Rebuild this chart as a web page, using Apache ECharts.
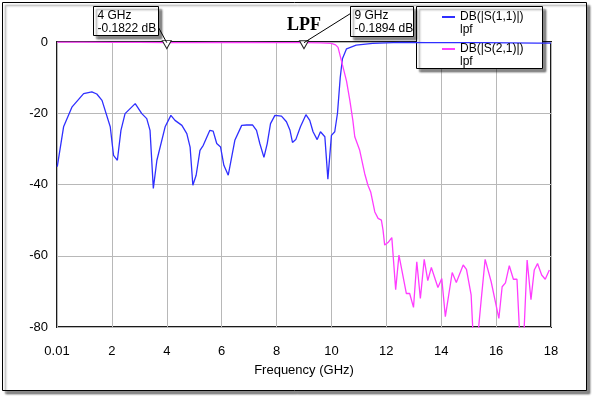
<!DOCTYPE html>
<html>
<head>
<meta charset="utf-8">
<script src="https://cdn.jsdelivr.net/npm/echarts@6/dist/echarts.min.js"></script>
<style>
html, body { margin: 0; padding: 0; background: #fff; }
#chart { width: 593px; height: 397px; }
</style>
</head>
<body>
<div id="chart"></div>
<script>
// DB(|S(1,1)|) - return loss, blue
const s11Freq = [0.01, 0.24, 0.55, 0.97, 1.27, 1.45, 1.64, 1.94, 2.06, 2.2, 2.33, 2.48, 2.85, 3.09, 3.27, 3.39,
  3.51, 3.64, 3.94, 4.15, 4.3, 4.55, 4.73, 4.85, 4.95, 5.07, 5.21, 5.33, 5.57, 5.69, 5.82, 5.96, 6.08, 6.24,
  6.48, 6.73, 6.91, 7.13, 7.27, 7.39, 7.54, 7.66, 7.78, 7.94, 8.18, 8.36, 8.49, 8.58, 8.7, 8.87, 9.07, 9.21,
  9.33, 9.48, 9.6, 9.76, 9.87, 10.0, 10.12, 10.22, 10.32, 10.4, 10.55, 10.9, 11.5, 12.5, 13.5, 14.5, 15.5,
  16.5, 17.5, 18];
const s11Db = [-35, -23.8, -18.2, -14.5, -14.0, -14.6, -16.4, -23.8, -31.8, -33.2, -24.8, -20.1, -17.3, -20.1, -21.5, -24.8,
  -41.1, -33.2, -23.8, -20.6, -22.0, -23.4, -25.7, -29.5, -40.2, -37.4, -30.4, -29.0, -24.8, -25.0, -28.5, -29.5, -34.6, -37.4,
  -27.6, -23.4, -23.3, -23.3, -24.8, -28.5, -32.4, -28.5, -22.9, -20.6, -20.8, -22.4, -24.8, -28.2, -27.4, -23.8, -20.4, -22.0,
  -25.2, -27.4, -25.2, -26.6, -38.5, -26.2, -25.2, -20.0, -10.0, -4.7, -1.9, -0.9, -0.4, -0.1, -0.15, -0.2, -0.2,
  -0.25, -0.3, -0.3];

// DB(|S(2,1)|) - insertion loss, magenta
const s21Freq = [0.01, 1, 2, 3, 4, 5, 6, 7, 8, 9, 9.6, 10.0, 10.15, 10.24, 10.42, 10.55, 10.67, 10.78, 10.85,
  11.03, 11.21, 11.33, 11.43, 11.58, 11.7, 11.82, 11.88, 11.94, 12.06, 12.2, 12.34, 12.46, 12.73, 12.85, 12.99,
  13.11, 13.24, 13.38, 13.51, 13.64, 13.88, 14.02, 14.15, 14.4, 14.55, 14.8, 14.92, 15.09, 15.22, 15.45, 15.6,
  15.82, 16.1, 16.22, 16.34, 16.48, 16.63, 16.76, 16.94, 17.13, 17.27, 17.39, 17.51, 17.66, 17.79, 17.94];
const s21Db = [-0.02, -0.05, -0.08, -0.12, -0.1822, -0.15, -0.12, -0.14, -0.17, -0.1894, -0.25, -0.4, -0.8, -1.5, -7, -11, -16.4, -22, -26.6,
  -30.4, -36.9, -40.2, -42.1, -47.7, -49.5, -50, -52.8, -57, -56.3, -54.9, -69.5, -59.8, -70.6, -70.6, -74.5,
  -61.7, -72, -61, -67, -63.3, -68.9, -66.4, -77.1, -64.7, -67.5, -62.6, -63.8, -71, -92, -72.9, -61,
  -67.3, -77.6, -68.7, -67.6, -62.8, -66.6, -66.6, -95, -61.2, -72.3, -64, -62.2, -65.4, -66.6, -64];

// marker readouts on S21
const markerFreqs = [4, 9];
const markerValues = [-0.1822, -0.1894];

const xTicks = [0, 2, 4, 6, 8, 10, 12, 14, 16, 18];
const yTicks = [0, -20, -40, -60, -80];

const font = '"Liberation Sans", Arial, sans-serif';
const zip = (a, b) => a.map((v, i) => [v, b[i]]);

const chart = echarts.init(document.getElementById('chart'));
chart.setOption({
  backgroundColor: '#fff',
  animation: false,
  title: {
    text: 'LPF',
    left: 287,
    top: 16,
    padding: 0,
    textStyle: { fontFamily: '"Liberation Serif", "Times New Roman", serif', fontWeight: 'bold', fontSize: 18, color: '#000' }
  },
  legend: {
    orient: 'vertical',
    left: 442,
    top: -2,
    padding: 0,
    itemGap: -6,
    icon: 'rect',
    itemWidth: 13,
    itemHeight: 2,
    selectedMode: false,
    data: ['DB(|S(1,1)|)', 'DB(|S(2,1)|)'],
    formatter: name => '{p|}\n{t|' + name + '}\n{t|lpf}',
    textStyle: {
      fontFamily: font, fontSize: 12, color: '#000',
      rich: { p: { lineHeight: 13 }, t: { lineHeight: 13, fontFamily: font, fontSize: 12 } }
    }
  },
  grid: {
    left: 57, right: 42, top: 42, bottom: 70,
    show: true, borderColor: '#1a1a1a', borderWidth: 2
  },
  xAxis: {
    type: 'value',
    min: xTicks[0], max: xTicks[xTicks.length - 1], interval: 2,
    name: 'Frequency (GHz)',
    nameLocation: 'middle',
    nameGap: 37,
    nameTextStyle: { fontFamily: font, fontSize: 13, color: '#000' },
    axisLine: { show: false },
    axisTick: { show: false },
    axisLabel: {
      margin: 18, fontFamily: font, fontSize: 13, color: '#000',
      formatter: v => (v === 0 ? '0.01' : String(v))
    },
    splitLine: { lineStyle: { color: '#b8b8b8', width: 1 } }
  },
  yAxis: {
    type: 'value',
    min: yTicks[yTicks.length - 1], max: yTicks[0], interval: 20,
    axisLine: { show: false },
    axisTick: { show: false },
    axisLabel: { margin: 9, fontFamily: font, fontSize: 13, color: '#000' },
    splitLine: { lineStyle: { color: '#b8b8b8', width: 1 } }
  },
  series: [
    {
      name: 'DB(|S(1,1)|)',
      type: 'line',
      data: zip(s11Freq, s11Db),
      symbol: 'none',
      color: '#2f2fff',
      lineStyle: { width: 1.3 }
    },
    {
      name: 'DB(|S(2,1)|)',
      type: 'line',
      data: zip(s21Freq, s21Db),
      symbol: 'none',
      color: '#ff3cff',
      lineStyle: { width: 1.3 },
      markPoint: {
        symbol: 'triangle',
        symbolRotate: 180,
        symbolSize: [9, 8],
        symbolOffset: [0, 2],
        itemStyle: { color: '#fff', borderColor: '#222', borderWidth: 1 },
        label: { show: false },
        data: markerFreqs.map((f, i) => ({ coord: [f, markerValues[i]] }))
      }
    }
  ]
});

// annotation boxes, leader lines, legend frame and outer frame
const shadow = { shadowColor: 'rgba(0,0,0,0.45)', shadowBlur: 2, shadowOffsetX: 3, shadowOffsetY: 3 };
const p1 = chart.convertToPixel({ seriesIndex: 1 }, [markerFreqs[0], markerValues[0]]);
const p2 = chart.convertToPixel({ seriesIndex: 1 }, [markerFreqs[1], markerValues[1]]);
const b1 = { x: Math.round(p1[0]) - 73.5, y: 6.5, w: 65, h: 29 };
const b2 = { x: Math.round(p2[0]) + 46.5, y: 6.5, w: 63, h: 30 };
const boxText = (b, i) => ({
  type: 'text', z: 11, x: b.x + 4, y: b.y + 3,
  style: {
    text: markerFreqs[i] + ' GHz\n' + markerValues[i] + ' dB',
    font: '12px ' + font, lineHeight: 13, fill: '#000'
  }
});
chart.setOption({
  graphic: [
    {
      type: 'rect', z: -5, shape: { x: 2.5, y: 2.5, width: 584, height: 388 },
      style: Object.assign({ fill: '#fff', stroke: '#000', lineWidth: 1 }, shadow)
    },
    {
      type: 'rect', z: 3, shape: { x: 416.5, y: 6.5, width: 126, height: 62 },
      style: Object.assign({ fill: '#fff', stroke: '#000', lineWidth: 1 }, shadow)
    },
    {
      type: 'line', z: 9, shape: { x1: b1.x + b1.w, y1: b1.y + 21, x2: p1[0], y2: p1[1] },
      style: { stroke: '#000', lineWidth: 1 }
    },
    {
      type: 'line', z: 9, shape: { x1: b2.x, y1: b2.y + 7, x2: p2[0], y2: p2[1] },
      style: { stroke: '#000', lineWidth: 1 }
    },
    {
      type: 'rect', z: 10, shape: { x: b1.x, y: b1.y, width: b1.w, height: b1.h },
      style: Object.assign({ fill: '#fff', stroke: '#000', lineWidth: 1 }, shadow)
    },
    boxText(b1, 0),
    {
      type: 'rect', z: 10, shape: { x: b2.x, y: b2.y, width: b2.w, height: b2.h },
      style: Object.assign({ fill: '#fff', stroke: '#000', lineWidth: 1 }, shadow)
    },
    boxText(b2, 1)
  ]
});
</script>
</body>
</html>
